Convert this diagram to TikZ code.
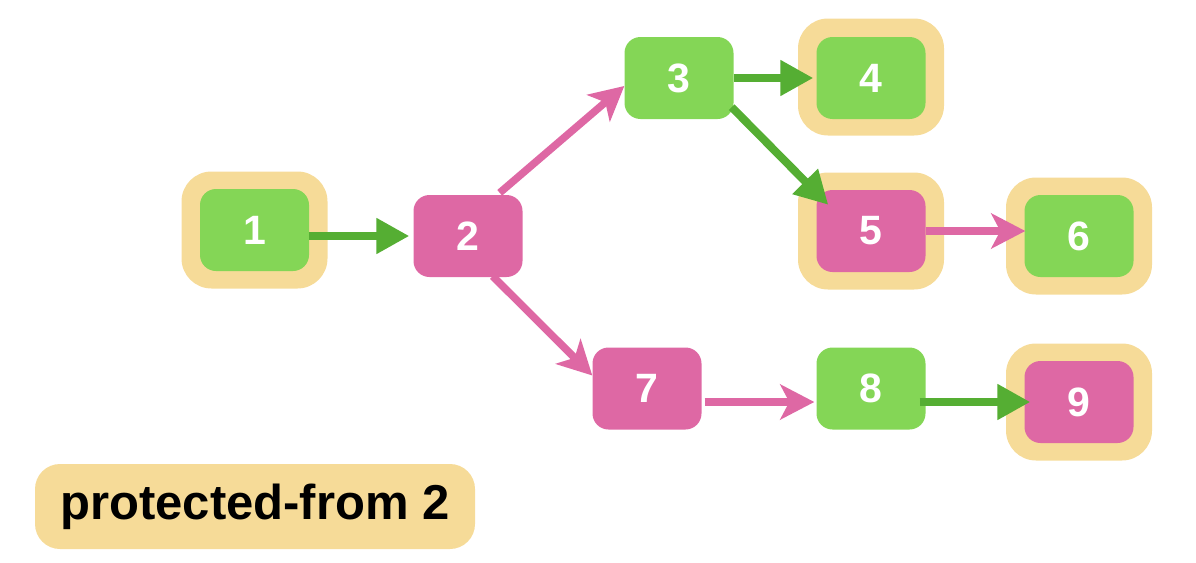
\documentclass[tikz,border=0pt]{standalone}
\usepackage{fontspec}
\setmainfont{Liberation Sans}
\usepackage{tikz}
\usetikzlibrary{arrows.meta}

\definecolor{boxgreen}{HTML}{84D656}
\definecolor{boxpink}{HTML}{DE68A4}
\definecolor{halotan}{HTML}{F6DB98}
\definecolor{arrowgreen}{HTML}{55AE33}

\tikzset{
  box/.style={rectangle, rounded corners=16pt, inner sep=0pt, minimum width=109pt, minimum height=82pt, text=white, font=\fontsize{41}{48}\selectfont\bfseries},
  greenbox/.style={box, fill=boxgreen},
  pinkbox/.style={box, fill=boxpink},
  halo/.style={rectangle, rounded corners=30pt, fill=halotan, minimum width=146pt, minimum height=117pt},
  greenarrow/.style={line width=8pt, draw=arrowgreen, -{Triangle[length=33pt,width=34pt]}},
  pinkarrow/.style={line width=7.5pt, draw=boxpink, -{Stealth[length=34pt,width=35pt,inset=9pt]}}
}

\begin{document}
\begin{tikzpicture}[x=1pt,y=-1pt]
  \useasboundingbox (0,0) rectangle (1196,562);
  % Protected halos
  \node[halo] (h1) at (254.5,230) {};
  \node[halo] (h4) at (871,77) {};
  \node[halo] (h5) at (871,231) {};
  \node[halo] (h6) at (1079,236) {};
  \node[halo] (h9) at (1079,402) {};
  % Steps
  \node[greenbox] (n1) at (254.5,230) {1};
  \node[pinkbox]  (n2) at (468,236) {2};
  \node[greenbox] (n3) at (679,78) {3};
  \node[greenbox] (n4) at (871,78) {4};
  \node[pinkbox]  (n5) at (871,231) {5};
  \node[greenbox] (n6) at (1079,236) {6};
  \node[pinkbox]  (n7) at (647,388.5) {7};
  \node[greenbox] (n8) at (871,388.5) {8};
  \node[pinkbox]  (n9) at (1079,402) {9};
  % Green arrows
  \draw[greenarrow] ([yshift=-6pt]n1.east) -- ([xshift=-4pt]n2.west);
  \draw[greenarrow] (n3.east) -- ([xshift=-3pt]n4.west);
  \draw[greenarrow] ([xshift=-2pt,yshift=12pt]n3.south east) -- ([xshift=12pt,yshift=-15pt]n5.north west);
  \draw[greenarrow] ([xshift=-6pt,yshift=-13.5pt]n8.east) -- ([xshift=6pt]n9.west);
  % Pink arrows
  \draw[pinkarrow] ([xshift=-23pt,yshift=2pt]n2.north east) -- ([yshift=-8pt]n3.west);
  \draw[pinkarrow] ([xshift=-30pt,yshift=1pt]n2.south east) -- ([yshift=13pt]n7.west);
  \draw[pinkarrow] (n5.east) -- ([xshift=1pt,yshift=5pt]n6.west);
  \draw[pinkarrow] ([xshift=3pt,yshift=-13.5pt]n7.east) -- ([xshift=-2pt,yshift=-13.5pt]n8.west);
  % Legend
  \node[rectangle, rounded corners=25pt, fill=halotan, minimum width=440pt, minimum height=85pt, font=\fontsize{49}{56}\selectfont\bfseries] (legend) at (255,506.5) {protected-from 2};
\end{tikzpicture}
\end{document}
